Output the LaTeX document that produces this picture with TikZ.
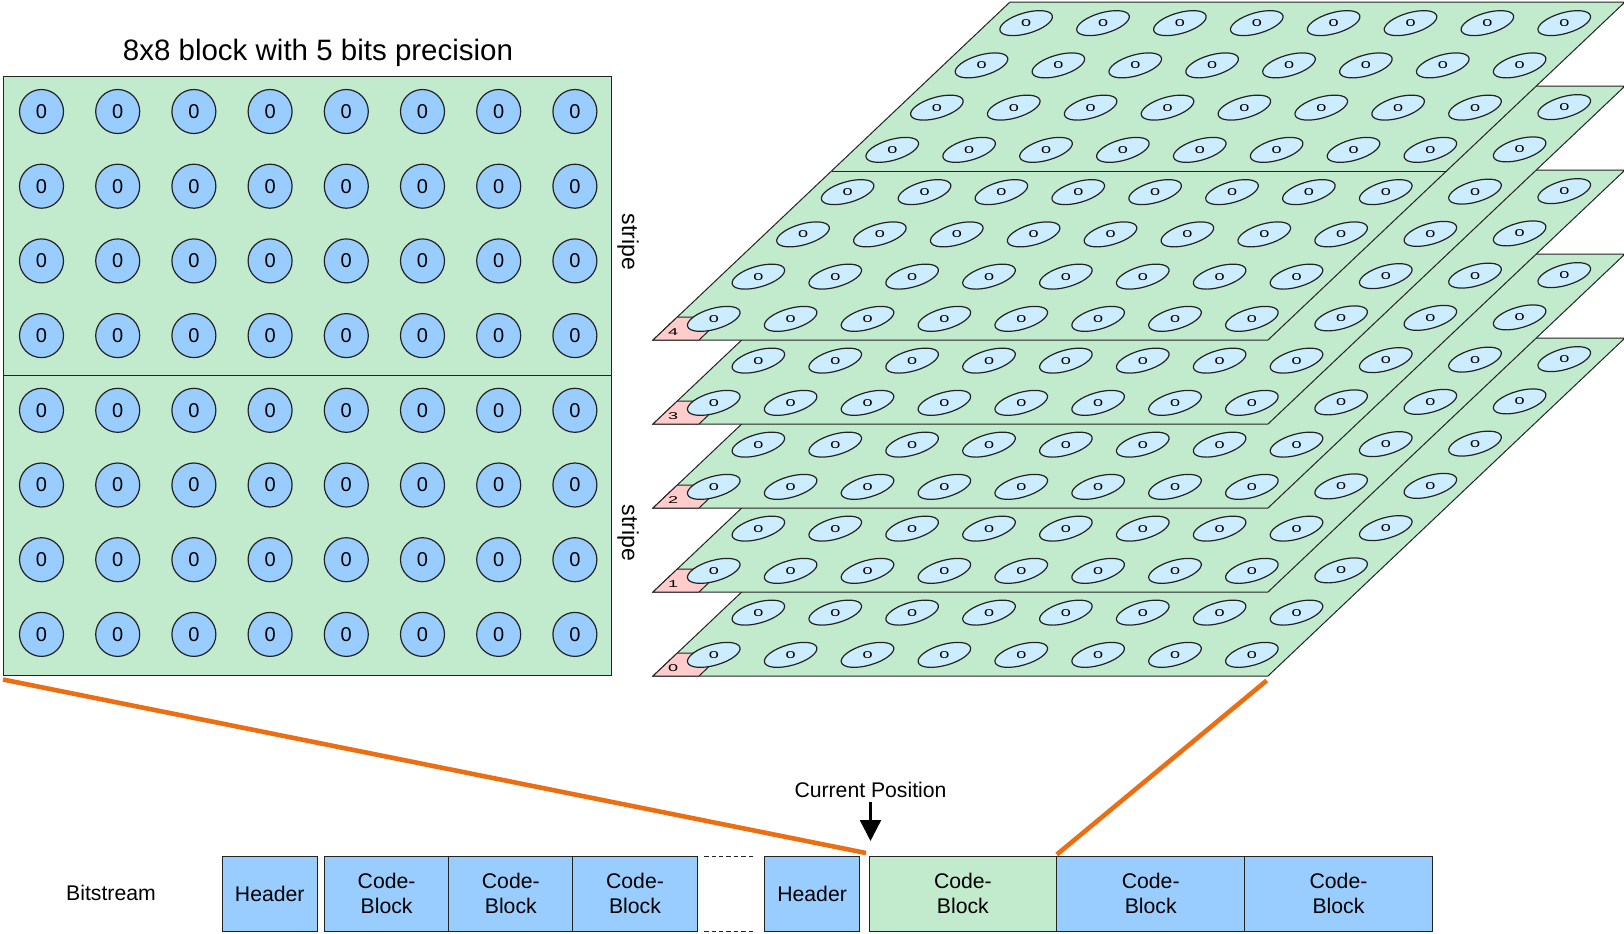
\documentclass[tikz,border=0pt]{standalone}
\usepackage{fontspec}
\setmainfont{Liberation Sans}
\usetikzlibrary{positioning,shapes.geometric,arrows.meta}

\definecolor{blockgreen}{RGB}{194,235,205}
\definecolor{bitblue}{RGB}{153,204,255}
\definecolor{planeblue}{RGB}{204,236,255}
\definecolor{tagpink}{RGB}{255,204,204}
\definecolor{linkorange}{RGB}{236,110,18}
\definecolor{edgegray}{RGB}{35,35,35}

\begin{document}
\begin{tikzpicture}[x=0.5pt, y=-0.5pt,
    every node/.style={font=\fontsize{10.6pt}{12.5pt}\selectfont, inner sep=0pt, outer sep=0pt},
    bit/.style={circle, draw=edgegray, fill=bitblue, line width=0.6pt, minimum size=22pt, font=\fontsize{10pt}{12pt}\selectfont},
    planebit/.style={ellipse, draw=edgegray, fill=planeblue, line width=0.6pt, minimum width=27.2pt, minimum height=10.4pt, rotate=16},
    planezero/.style={font=\fontsize{9pt}{10pt}\selectfont, yscale=0.55},
    plane/.style={draw=edgegray, fill=blockgreen, line width=0.5pt},
    tag/.style={draw=edgegray, fill=tagpink, line width=0.5pt},
    stream/.style={draw=edgegray, fill=bitblue, line width=0.5pt, minimum height=37.25pt, align=center, anchor=north west},
    link/.style={draw=linkorange, line width=2.3pt},
    gapline/.style={draw=edgegray, line width=0.5pt, dash pattern=on 2.2pt off 1.5pt}]
  \useasboundingbox (0,0) rectangle (1624,933);

  % 8x8-Block links
  \node[plane, minimum width=304pt, minimum height=299.5pt, anchor=north west] (blk) at (3,76) {};
  \draw[edgegray, line width=0.5pt] (blk.west) -- (blk.east);
  \node[font=\fontsize{14.75pt}{17pt}\selectfont] (title) at (318,53) {8x8 block with 5 bits precision};
  \foreach \r in {0,...,7}
    \foreach \c in {0,...,7}
      \node[bit] (b\r\c) at ({41.5+76.2*\c},{111.5+74.7*\r}) {0};
  \node[rotate=-90, font=\fontsize{11.5pt}{13pt}\selectfont] (stripe1) at (628,242) {stripe};
  \node[rotate=-90, font=\fontsize{11.5pt}{13pt}\selectfont] (stripe2) at (628,533) {stripe};

  % Bitebenen 0 bis 4
  \foreach \k in {0,...,4}{
    \pgfmathsetmacro{\yb}{676-84*\k}
    \draw[plane] (653,\yb) -- ++(615,0) -- ++(357,-338) -- ++(-615,0) -- cycle;
    \draw[tag] (653,\yb) -- ++(46,0) -- ++(24.3,-23) -- ++(-46,0) -- cycle;
    \node[planezero] (lvl\k) at (673,\yb-8) {\k};
    \foreach \j in {0,...,7}
      \foreach \i in {0,...,7}{
        \node[planebit] (e\k\j\i) at ({653+76.875*(\i+0.5)+44.625*(7.5-\j)},{\yb-42.25*(7.5-\j)}) {};
        \node[planezero] (z\k\j\i) at (e\k\j\i) {0};
      }
  }
  % Streifengrenze auf Ebene 4
  \draw[edgegray, line width=0.5pt] (831.5,171) -- ++(615,0);
  \coordinate (p0br) at (1268,676);

  % Bitstrom
  \node (bs) at (111,893) {Bitstream};
  \node[stream, minimum width=47.25pt] (hd1) at (222.5,856.5) {Header};
  \node[stream, minimum width=62.1pt, right=3.75pt of hd1] (cb1) {Code-\\Block};
  \node[stream, minimum width=62.1pt, right=0pt of cb1] (cb2) {Code-\\Block};
  \node[stream, minimum width=62.1pt, right=0pt of cb2] (cb3) {Code-\\Block};
  \node[stream, minimum width=47.6pt] (hd2) at (764.5,856.5) {Header};
  \node[stream, fill=blockgreen, minimum width=93.9pt, right=4.65pt of hd2] (cur) {Code-\\Block};
  \node[stream, minimum width=93.9pt, right=0pt of cur] (cb4) {Code-\\Block};
  \node[stream, minimum width=93.9pt, right=0pt of cb4] (cb5) {Code-\\Block};
  \draw[gapline] ([xshift=3.5pt]cb3.north east) -- ([xshift=-4.5pt]hd2.north west);
  \draw[gapline] ([xshift=3.5pt]cb3.south east) -- ([xshift=-4.5pt]hd2.south west);

  % aktuelle Position
  \node[anchor=base] (curlbl) at (870.5,797) {Current Position};
  \coordinate (tip) at ([xshift=0.75pt,yshift=7.75pt]cur.north west);
  \draw[black, line width=1.5pt, -{Triangle[width=10.4pt,length=10.5pt]}] ([yshift=-2.5pt]curlbl.south) -- (tip);

  % Zuordnung
  \draw[link] ([yshift=-2.25pt]blk.south west) -- ([xshift=-1.5pt,yshift=1.75pt]cur.north west);
  \draw[link] ([xshift=-0.65pt,yshift=-2.25pt]p0br) -- ([yshift=1pt]cur.north east);
\end{tikzpicture}
\end{document}
